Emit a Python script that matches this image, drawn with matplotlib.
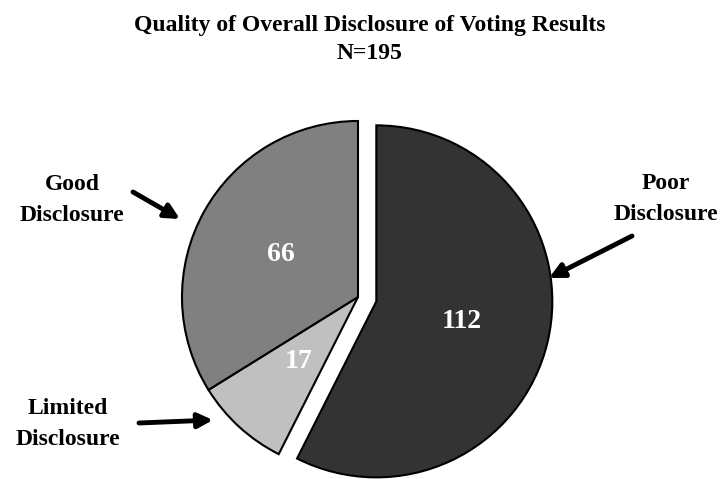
import matplotlib.pyplot as plt

plt.rcParams['font.family'] = ['Liberation Serif', 'DejaVu Serif']
plt.rcParams['font.weight'] = 'bold'

# Data
categories = ['Poor Disclosure', 'Limited Disclosure', 'Good Disclosure']
counts = [112, 17, 66]
colors = ['#333333', '#c0c0c0', '#808080']
total = sum(counts)

W, H = 720, 479
R = 176.0          # pie radius in pixels
cx, cy = 358, 297  # pie centre (image pixels, from top)

fig = plt.figure(figsize=(W / 100, H / 100), dpi=100)
ax = fig.add_axes([0, 0, 1, 1])

wedges, texts, autotexts = ax.pie(
    counts, explode=[0.107, 0, 0], colors=colors, startangle=90,
    counterclock=False, pctdistance=0.5,
    autopct=lambda p: '{:.0f}'.format(p * total / 100),
    wedgeprops=dict(edgecolor='black', linewidth=1.5),
    textprops=dict(color='white', fontsize=20, fontweight='bold'))

ax.set_xlim(-cx / R, (W - cx) / R)
ax.set_ylim(-(H - cy) / R, cy / R)
ax.set_aspect('auto')
ax.axis('off')

# Title
fig.text(370 / W, 1 - 15 / H, 'Quality of Overall Disclosure of Voting Results\nN=195',
         ha='center', va='top', fontsize=17, fontweight='bold', linespacing=1.45)

# Outside labels with arrows
labels = [('Poor\nDisclosure', (666, 199), (632, 236), (549, 278)),
          ('Good\nDisclosure', (72, 200), (133, 192), (180, 219)),
          ('Limited\nDisclosure', (68, 424), (139, 423), (213, 420))]
for txt, (tx, ty), (ax0, ay0), (ax1, ay1) in labels:
    fig.text(tx / W, 1 - ty / H, txt, ha='center', va='center',
             fontsize=17, fontweight='bold', linespacing=1.62)
    ax.annotate('', xy=(ax1, H - ay1), xytext=(ax0, H - ay0),
                xycoords='figure pixels', textcoords='figure pixels',
                arrowprops=dict(arrowstyle='-|>', color='black', lw=3.5,
                                mutation_scale=22, shrinkA=0, shrinkB=0))

fig.savefig('out.png', dpi=100)
